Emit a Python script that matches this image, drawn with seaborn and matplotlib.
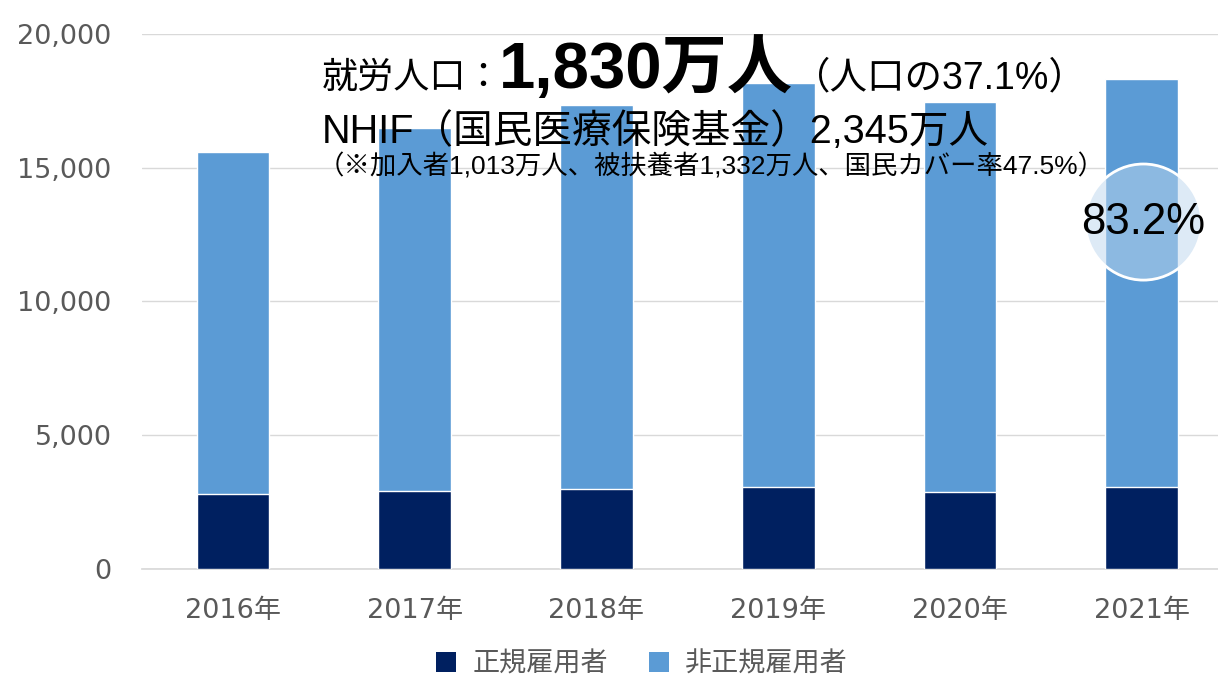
import matplotlib
matplotlib.use("Agg")
import matplotlib.pyplot as plt
from matplotlib.patches import Patch, Ellipse
from matplotlib.ticker import FuncFormatter
import pandas as pd
import seaborn as sns

years = ["2016年", "2017年", "2018年", "2019年", "2020年", "2021年"]
regular = [2804, 2916, 3003, 3078, 2891, 3060]          # 正規雇用者 (千人)
non_regular = [12786, 13574, 14347, 15092, 14569, 15250]  # 非正規雇用者 (千人)
series_names = ["正規雇用者", "非正規雇用者"]
colors = ["#002060", "#5b9bd5"]

df = pd.DataFrame({"year": years, "regular": regular, "non_regular": non_regular})
df["total"] = df["regular"] + df["non_regular"]

sns.set_theme(style="white")
plt.rcParams["font.family"] = ["DejaVu Sans", "Noto Sans CJK JP"]
jp = ["Liberation Sans", "Noto Sans CJK JP"]

fig = plt.figure(figsize=(12.18, 6.77), dpi=100)
ax = fig.add_axes([142 / 1218, 108 / 677, 1 - 142 / 1218, 535 / 677])

sns.barplot(data=df, x="year", y="total", color=colors[1], width=0.4,
            saturation=1, ax=ax, zorder=2)
sns.barplot(data=df, x="year", y="regular", color=colors[0], width=0.4,
            saturation=1, ax=ax, zorder=3)

ax.set_ylim(0, 20000)
ax.set_xlim(-0.5, 5.42)
ax.set_yticks(range(0, 20001, 5000))
ax.yaxis.set_major_formatter(FuncFormatter(lambda v, p: f"{int(v):,}"))
ax.grid(axis="y", color="#d9d9d9", linewidth=1, zorder=0)
ax.set_axisbelow(True)
for s in ["top", "right", "left"]:
    ax.spines[s].set_visible(False)
ax.spines["bottom"].set_color("#d9d9d9")
ax.tick_params(axis="both", length=0, labelsize=19.5, colors="#595959")
ax.tick_params(axis="y", pad=22)
ax.tick_params(axis="x", pad=21)
ax.set_xlabel("")
ax.set_ylabel("")

# legend
handles = [Patch(facecolor=c, edgecolor="none") for c in colors]
leg = fig.legend(handles, series_names, loc="center", bbox_to_anchor=(0.527, 0.018),
                 ncol=2, frameon=False, handlelength=0.75, handleheight=0.75,
                 handletextpad=0.6, columnspacing=1.5,
                 prop={"family": jp, "size": 19.5})
for t in leg.get_texts():
    t.set_color("#595959")

# headline texts
fig.canvas.draw()
renderer = fig.canvas.get_renderer()
y1 = 1 - 88 / 677
x = 322 / 1218
parts = [("就労人口：", 26, "normal", -4), ("1,830万人", 47, "bold", 0),
         ("（人口の37.1%）", 27, "normal", 0)]
for txt, size, weight, gap in parts:
    t = fig.text(x, y1, txt, fontsize=size, fontweight=weight, family=jp,
                 color="black", va="baseline", ha="left")
    bb = t.get_window_extent(renderer)
    x = (bb.x1 + gap) / fig.bbox.width

fig.text(322 / 1218, 1 - 143 / 677, "NHIF（国民医療保険基金）2,345万人", fontsize=28.5,
         family=jp, color="black", va="baseline", ha="left")
fig.text(318 / 1218, 1 - 174 / 677,
         "（※加入者1,013万人、被扶養者1,332万人、国民カバー率47.5%）",
         fontsize=19, family=jp, color="black", va="baseline", ha="left")

# highlight circle on 2021
ax.add_patch(Ellipse((5.01, 12970), 0.64, 4340, facecolor="#bdd7ee", alpha=0.5,
                     edgecolor="none", zorder=4))
ax.add_patch(Ellipse((5.01, 12970), 0.64, 4340, facecolor="none", edgecolor="white",
                     linewidth=2, zorder=5))
ax.text(5.01, 12970, "83.2%", fontsize=31.5, family=jp, color="black",
        ha="center", va="center", zorder=6)

fig.savefig("out.png", dpi=100)
